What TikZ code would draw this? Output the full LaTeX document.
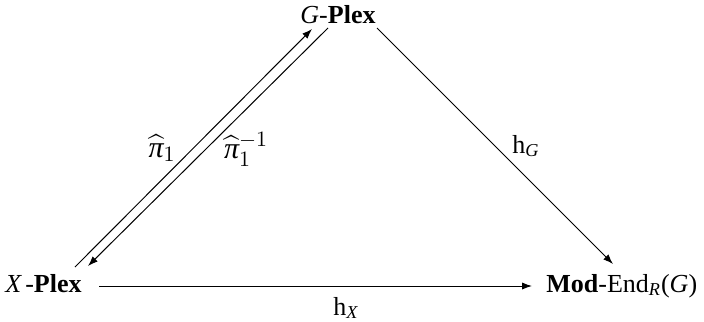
\documentclass[tikz,border=0pt]{standalone}
\usepackage{amsmath}
\usepackage{fontspec}
\setmainfont{Liberation Serif}
\usetikzlibrary{arrows.meta,calc}
\newcommand\mi[1]{\text{\itshape #1}}
\begin{document}
\begin{tikzpicture}[x=0.5pt,y=-0.5pt,
  font=\fontsize{13}{15}\selectfont,
  lbl/.style={inner sep=0pt},
  pilbl/.style={inner sep=0pt,font=\fontsize{15}{18}\selectfont},
  arr/.style={line width=0.5pt,-{Latex[length=5pt,width=3.6pt]}}]
\useasboundingbox (0,0) rectangle (704,321);
\node[lbl,anchor=base] (G) at (338,23) {\mi{G}-\textbf{Plex}};
\node[lbl,anchor=base west] (X) at (5,292) {\mi{X}\kern2pt-\textbf{Plex}};
\node[lbl,anchor=base west] (M) at (546,292) {\textbf{Mod}-End$_{\mi{R}}$(\mi{G})};
\draw[arr] ($(X.base west)+(70,-25)$) -- ($(G.base)+(-26,6)$);
\node[pilbl,anchor=base] (p1) at (162,157) {$\widehat{\mi{π}}_1$};
\node[pilbl,anchor=base] (p2) at (246,158) {$\widehat{\mi{π}}{}_1^{-1}$};
\draw[arr] ($(G.base)+(-10,5)$) -- ($(X.base west)+(83,-26)$);
\draw[arr] ($(G.base)+(39,5)$) -- ($(M.base west)+(67,-28)$);
\node[lbl,anchor=base] (hG) at (526,153) {h$_{\mi{G}}$};
\draw[arr] ($(X.base west)+(94,-6)$) -- ($(M.base west)+(-14,-6)$);
\node[lbl,anchor=base] (hX) at (346,315) {h$_{\mi{X}}$};
\end{tikzpicture}
\end{document}
